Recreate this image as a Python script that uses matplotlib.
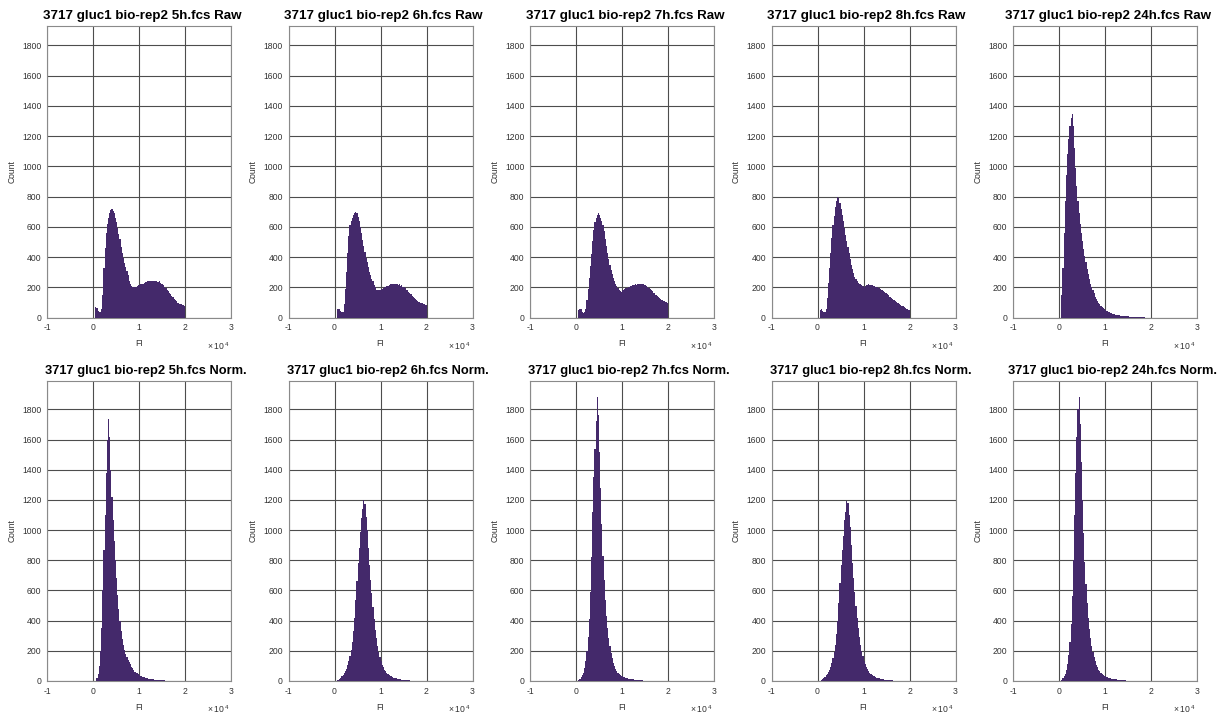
import numpy as np
import matplotlib
matplotlib.use("Agg")
import matplotlib.pyplot as plt
from matplotlib.ticker import FuncFormatter
from matplotlib.transforms import offset_copy

plt.rcParams['font.family'] = ['Liberation Sans', 'DejaVu Sans']
plt.rcParams['mathtext.fontset'] = 'custom'
plt.rcParams['mathtext.rm'] = 'Liberation Sans'

# histogram counts, bins of 250 FI starting at 0
bin_width = 250
timepoints = ["5h", "6h", "7h", "8h", "24h"]

raw_5h = [0, 0, 70, 65, 45, 35, 40, 60, 150, 330, 460, 560, 620, 660, 690, 710,
          720, 705, 690, 660, 630, 590, 555, 520, 470, 430, 395, 360, 335, 310, 280, 245,
          225, 210, 205, 200, 205, 200, 210, 215, 215, 220, 225, 225, 230, 235, 235, 240,
          240, 240, 245, 240, 245, 240, 245, 240, 235, 240, 230, 225, 220, 215, 205, 195,
          185, 175, 165, 155, 145, 135, 125, 115, 110, 100, 95, 90, 90, 85, 85, 80]
raw_6h = [0, 0, 55, 60, 55, 45, 35, 40, 90, 190, 300, 430, 540, 610, 640, 660,
          680, 695, 700, 690, 665, 640, 600, 560, 515, 475, 435, 395, 365, 335, 305, 280,
          255, 240, 215, 200, 185, 180, 185, 180, 190, 190, 195, 200, 205, 210, 210, 215,
          220, 220, 225, 225, 220, 225, 220, 215, 220, 210, 215, 205, 200, 195, 185, 180,
          170, 165, 155, 145, 140, 130, 125, 115, 110, 105, 100, 95, 95, 90, 90, 85]
raw_7h = [0, 0, 50, 60, 55, 40, 30, 35, 60, 120, 190, 260, 340, 420, 510, 580,
          630, 660, 680, 690, 680, 660, 640, 615, 570, 520, 475, 430, 390, 350, 315, 290,
          265, 240, 225, 210, 195, 185, 175, 170, 180, 185, 190, 195, 195, 200, 205, 210,
          210, 215, 215, 220, 215, 220, 225, 220, 225, 220, 220, 215, 215, 210, 200, 195,
          190, 180, 175, 165, 160, 150, 145, 135, 130, 125, 120, 115, 110, 105, 105, 100]
raw_8h = [0, 0, 50, 55, 45, 35, 35, 60, 130, 230, 330, 430, 530, 610, 670, 730,
          770, 800, 790, 760, 720, 680, 640, 590, 545, 505, 465, 430, 390, 350, 320, 295,
          270, 255, 240, 230, 225, 220, 215, 210, 205, 210, 215, 215, 220, 215, 215, 215,
          210, 210, 205, 200, 200, 195, 190, 185, 180, 175, 170, 160, 155, 150, 140, 135,
          130, 125, 120, 110, 105, 100, 95, 90, 85, 80, 75, 70, 65, 60, 55, 50]
raw_24h = [0, 0, 150, 330, 560, 770, 940, 1080, 1180, 1270, 1320, 1345, 1270, 1120, 990, 870,
           770, 690, 620, 560, 505, 455, 410, 365, 325, 290, 255, 225, 200, 180, 160, 140,
           125, 110, 100, 90, 80, 72, 64, 58, 52, 46, 42, 38, 34, 30, 27, 24,
           22, 20, 18, 16, 15, 14, 12, 11, 10, 10, 9, 8, 8, 7, 7, 6,
           6, 5, 5, 5, 4, 4, 4, 3, 3, 2, 2, 1, 1, 1]

norm_5h = [0, 0, 0, 20, 45, 100, 200, 350, 600, 870, 1100, 1380, 1600, 1735, 1620, 1400,
           1220, 1070, 930, 800, 680, 570, 480, 400, 330, 280, 240, 205, 180, 160, 140, 125,
           110, 95, 85, 72, 62, 55, 50, 44, 40, 35, 31, 28, 25, 22, 20, 18,
           16, 14, 13, 12, 10, 9, 8, 8, 7, 6, 6, 5, 5, 4, 4, 3,
           3, 3, 2, 2, 2, 2, 1, 1, 1, 1, 1]
norm_6h = [0, 0, 4, 9, 15, 22, 30, 40, 52, 65, 82, 105, 130, 165, 205, 260,
           330, 420, 540, 660, 780, 880, 990, 1080, 1140, 1200, 1170, 1090, 1000, 880, 770, 670,
           580, 490, 410, 340, 285, 235, 195, 160, 132, 108, 90, 76, 64, 55, 47, 41,
           35, 30, 26, 22, 19, 17, 15, 13, 11, 10, 9, 8, 7, 6, 5, 5,
           4, 4, 3, 3, 2, 2, 2, 1, 1, 1, 1]
norm_7h = [0, 0, 5, 15, 25, 38, 55, 85, 130, 200, 290, 410, 590, 820, 1120, 1350,
           1540, 1720, 1880, 1760, 1520, 1280, 1040, 830, 670, 540, 430, 350, 285, 230, 185, 150,
           120, 98, 80, 66, 55, 47, 40, 35, 30, 27, 24, 21, 18, 16, 14, 13,
           11, 10, 9, 8, 7, 6, 5, 5, 4, 4, 3, 3, 2, 2, 2, 1,
           1, 1]
norm_8h = [0, 0, 3, 8, 14, 20, 28, 38, 48, 60, 75, 95, 120, 150, 190, 240,
           310, 400, 520, 650, 770, 870, 960, 1070, 1120, 1190, 1180, 1100, 1020, 900, 780, 680,
           590, 500, 420, 350, 290, 240, 200, 165, 135, 110, 92, 78, 66, 56, 48, 42,
           36, 31, 27, 23, 20, 18, 15, 13, 12, 10, 9, 8, 7, 6, 5, 5,
           4, 4, 3, 3, 2, 2, 2, 1, 1, 1, 1]
norm_24h = [0, 0, 6, 18, 30, 45, 70, 110, 170, 260, 380, 560, 800, 1100, 1380, 1620,
            1800, 1885, 1700, 1450, 1200, 980, 790, 640, 520, 420, 345, 285, 235, 195, 160, 132,
            108, 90, 75, 63, 54, 46, 40, 35, 31, 27, 24, 21, 18, 16, 14, 13,
            11, 10, 9, 8, 7, 6, 6, 5, 4, 4, 3, 3, 2, 2, 2, 1,
            1, 1, 1, 1]

raw_counts = [raw_5h, raw_6h, raw_7h, raw_8h, raw_24h]
norm_counts = [norm_5h, norm_6h, norm_7h, norm_8h, norm_24h]

bar_color = '#44296b'
grid_color = '#4d4d4d'

fig = plt.figure(figsize=(12.28, 7.16), dpi=100)
W, H = 1228.0, 716.0
col_left = [47, 288.5, 530, 771.5, 1013]
ax_w = 184
# top, bottom (px), data, label, y limit, title size, title shift (px)
rows = [(25.7, 317.7, raw_counts, 'Raw', 1930, 9.6, 3),
        (380.7, 681.0, norm_counts, 'Norm.', 1990, 9.3, 7)]

for top, bottom, counts_list, kind, ytop, tsize, tshift in rows:
    for c, tp in enumerate(timepoints):
        ax = fig.add_axes([col_left[c] / W, 1 - bottom / H, ax_w / W, (bottom - top) / H])
        counts = np.array(counts_list[c], dtype=float)
        edges = np.arange(len(counts) + 1) * bin_width
        ax.stairs(counts, edges, fill=True, color=bar_color, linewidth=0, zorder=3)

        ax.set_xlim(-10000, 30000)
        ax.set_ylim(0, ytop)
        ax.set_xticks([-10000, 0, 10000, 20000, 30000])
        ax.set_yticks(np.arange(0, 1801, 200))
        ax.xaxis.set_major_formatter(FuncFormatter(lambda v, p: '%g' % (v / 1e4)))
        ax.grid(True, color=grid_color, linewidth=0.8, zorder=1)
        ax.set_axisbelow(True)
        ax.tick_params(length=0, labelsize=6.2, colors='#333333', pad=4)
        for s in ax.spines.values():
            s.set_color('#8a8a8a')
            s.set_linewidth(0.8)

        ax.set_xlabel('FI', fontsize=6.2, color='#333333', labelpad=5)
        ax.set_ylabel('Count', fontsize=6.2, color='#333333', labelpad=4)
        ax.set_title('3717 gluc1 bio-rep2 %s.fcs %s' % (tp, kind),
                     fontsize=tsize, fontweight='bold', pad=5, x=0.5 + tshift / ax_w)

        tr = offset_copy(ax.transAxes, fig=fig, x=-2, y=-28, units='dots')
        ax.text(1.0, 0.0, r'$\times\,10^{\,4}$', transform=tr, ha='right', va='center',
                fontsize=6.2, color='#333333')

fig.savefig('out.png', dpi=100, facecolor='white')
